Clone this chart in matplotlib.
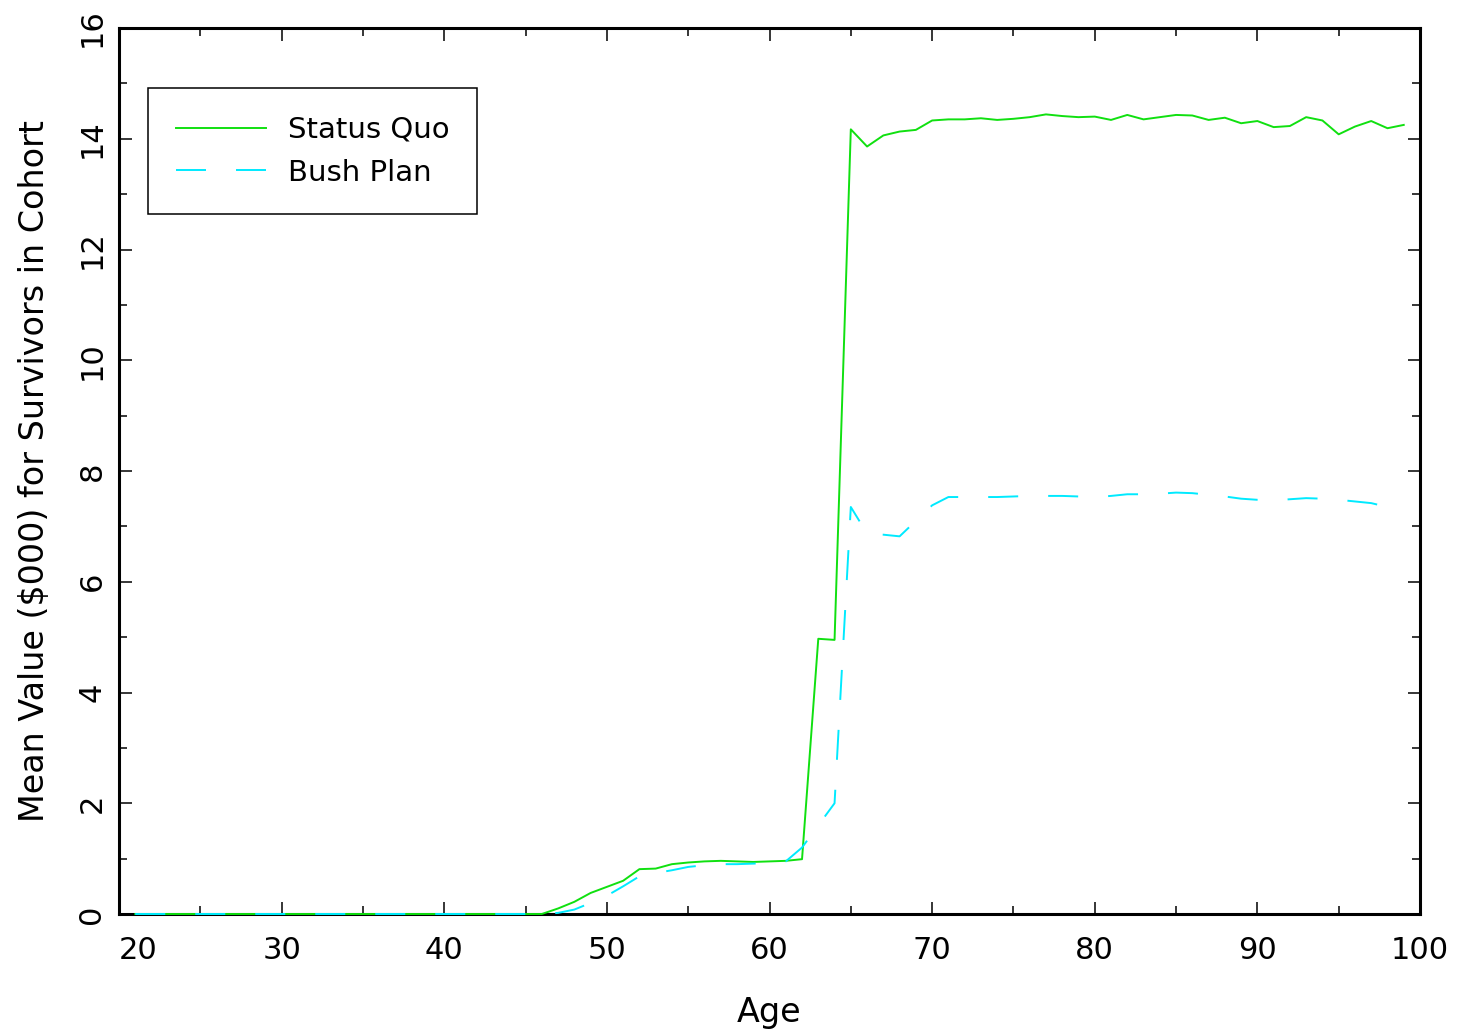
import matplotlib
matplotlib.use('Agg')
import matplotlib.pyplot as plt
import numpy as np
from matplotlib.ticker import MultipleLocator

# ages 21..99
ages = list(range(21, 100))

# Status Quo (solid green)
status_quo = [0.0] * 26 + [  # 21..46
    0.10, 0.22, 0.38, 0.49, 0.60, 0.81, 0.82, 0.90, 0.93, 0.95,   # 47..56
    0.96, 0.95, 0.94, 0.95, 0.96, 0.99, 4.97, 4.95, 14.17, 13.86,  # 57..66
    14.06, 14.13, 14.16, 14.33, 14.35, 14.35, 14.37, 14.34, 14.36, 14.39,  # 67..76
    14.44, 14.41, 14.39, 14.40, 14.34, 14.43, 14.35, 14.39, 14.43, 14.42,  # 77..86
    14.34, 14.38, 14.28, 14.32, 14.21, 14.23, 14.39, 14.33, 14.08, 14.22,  # 87..96
    14.32, 14.19, 14.25]  # 97..99

# Bush Plan (dashed cyan)
bush_plan = [0.0] * 26 + [  # 21..46
    0.02, 0.08, 0.20, 0.33, 0.50, 0.68, 0.74, 0.79, 0.85, 0.88,   # 47..56
    0.90, 0.90, 0.91, 0.92, 0.95, 1.20, 1.60, 2.00, 7.35, 6.87,   # 57..66
    6.85, 6.82, 7.10, 7.38, 7.53, 7.53, 7.53, 7.53, 7.54, 7.55,   # 67..76
    7.55, 7.55, 7.54, 7.53, 7.55, 7.58, 7.58, 7.59, 7.61, 7.60,   # 77..86
    7.57, 7.54, 7.50, 7.48, 7.47, 7.49, 7.51, 7.50, 7.48, 7.45,   # 87..96
    7.42, 7.35, 7.28]  # 97..99

x_ticks = [20, 30, 40, 50, 60, 70, 80, 90, 100]

plt.rcParams['font.family'] = 'DejaVu Sans'
plt.rcParams['lines.scale_dashes'] = False

fig = plt.figure(figsize=(14.58, 10.36), dpi=100)
ax = fig.add_axes([119 / 1458, 1 - 914 / 1036, 1301 / 1458, 886 / 1036])

ax.plot(ages, status_quo, color='#10e010', lw=1.4, label='Status Quo',
        zorder=3, clip_on=False)
ax.plot(ages, bush_plan, color='#00eaff', lw=1.4, linestyle=(0, (21.6, 21.6)),
        label='Bush Plan', zorder=3, clip_on=False)

ax.set_xlim(20, 100)
ax.set_ylim(0, 16)
ax.set_xticks(x_ticks, [str(v) for v in x_ticks])
ax.xaxis.set_minor_locator(MultipleLocator(5))
ax.yaxis.set_major_locator(MultipleLocator(2))
ax.yaxis.set_minor_locator(MultipleLocator(1))

for s in ax.spines.values():
    s.set_linewidth(2.2)

ax.tick_params(which='both', direction='in', top=True, right=True, width=1.1, labelsize=22)
ax.tick_params(which='major', length=9)
ax.tick_params(which='minor', length=6)
ax.tick_params(axis='x', pad=16)
ax.tick_params(axis='y', pad=9, labelrotation=90)
for lbl in ax.get_yticklabels():
    lbl.set_va('center')
ax.get_xticklabels()[0].set_ha('left')

ax.set_xlabel('Age', fontsize=24, labelpad=22)
ax.set_ylabel('Mean Value ($000) for Survivors in Cohort', fontsize=24, labelpad=19)

leg = ax.legend(loc='upper left', bbox_to_anchor=(0.0223, 0.932), borderaxespad=0,
                fontsize=21, handlelength=3.1, handletextpad=0.75, borderpad=0.95,
                labelspacing=0.5, fancybox=False, framealpha=1, edgecolor='black')
leg.get_frame().set_linewidth(1.1)

fig.savefig('out.png', dpi=100)
